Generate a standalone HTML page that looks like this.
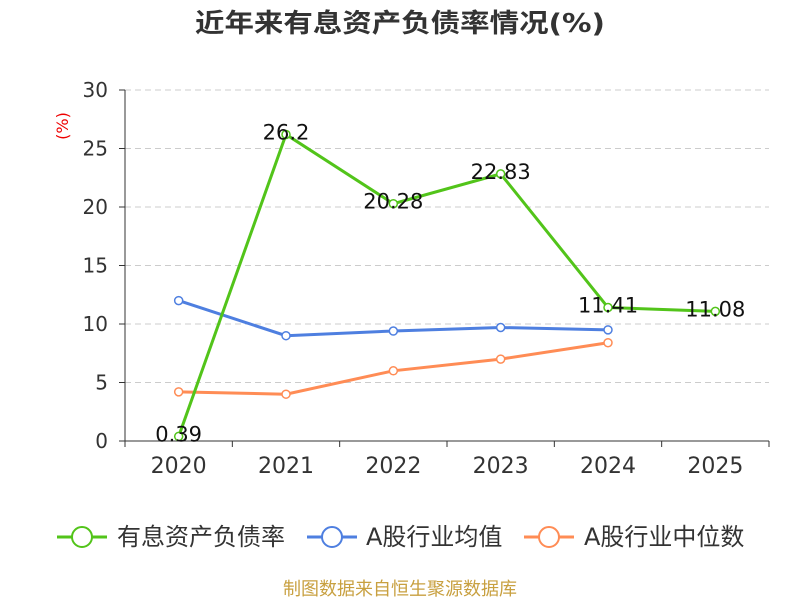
<!DOCTYPE html>
<html><head><meta charset="utf-8"><style>
body{margin:0;background:#fff;width:800px;height:600px;overflow:hidden;font-family:"DejaVu Sans","Noto Sans CJK SC",sans-serif}
</style></head><body>
<svg id="c" width="800" height="600" xmlns="http://www.w3.org/2000/svg">
<text x="195" y="32" textLength="410" lengthAdjust="spacingAndGlyphs" font-size="26" font-weight="bold" fill="#333">近年来有息资产负债率情况(%)</text>
<text x="68" y="126" text-anchor="middle" font-size="16" fill="#e00" transform="rotate(-90 68 126)">(%)</text>
<g id="grid"></g><g id="axes"></g><g id="series"></g>
<g>
<g><line x1="57" y1="537" x2="107" y2="537" stroke="#52c41a" stroke-width="3"/><circle cx="82" cy="537" r="10" fill="#fff" stroke="#52c41a" stroke-width="2"/><text x="117" y="545" font-size="24" fill="#333">有息资产负债率</text></g>
<g><line x1="307" y1="537" x2="357" y2="537" stroke="#4e7fe0" stroke-width="3"/><circle cx="332" cy="537" r="10" fill="#fff" stroke="#4e7fe0" stroke-width="2"/><text x="366" y="545" font-size="24" fill="#333">A股行业均值</text></g>
<g><line x1="524" y1="537" x2="574" y2="537" stroke="#ff8c55" stroke-width="3"/><circle cx="549" cy="537" r="10" fill="#fff" stroke="#ff8c55" stroke-width="2"/><text x="584" y="545" font-size="24" fill="#333">A股行业中位数</text></g>
</g>
<text x="400" y="595" text-anchor="middle" font-size="18" fill="#c8a040">制图数据来自恒生聚源数据库</text>
</svg>
<script>
const categories=["2020","2021","2022","2023","2024","2025"];
const debtRatio=[0.39,26.2,20.28,22.83,11.41,11.08];
const industryMean=[12.0,9.0,9.4,9.7,9.5];
const industryMedian=[4.2,4.0,6.0,7.0,8.4];
const yTicks=[0,5,10,15,20,25,30];
const NS="http://www.w3.org/2000/svg";
const x0=125,x1=769,y0=441,yTop=90,yMax=30;
const bw=(x1-x0)/categories.length;
const X=i=>x0+bw*(i+0.5);
const Y=v=>y0-(v/yMax)*(y0-yTop);
function mk(tag,attrs,parent){const e=document.createElementNS(NS,tag);for(const k in attrs)e.setAttribute(k,attrs[k]);parent.appendChild(e);return e;}
const grid=document.getElementById('grid'),axes=document.getElementById('axes'),ser=document.getElementById('series');
yTicks.forEach(t=>{
 if(t>0){const g=mk('line',{x1:x0,x2:x1,y1:Y(t),y2:Y(t),stroke:'#ccc','stroke-dasharray':'6,4'},grid);
 
 }
 mk('line',{x1:x0-6,x2:x0,y1:Y(t),y2:Y(t),stroke:'#333'},axes);
 const tx=mk('text',{x:x0-17,y:Y(t)+7,'text-anchor':'end','font-size':20,fill:'#333'},axes);tx.textContent=t;
 
 
});
mk('line',{x1:x0,x2:x0,y1:yTop,y2:y0,stroke:'#333'},axes);
mk('line',{x1:x0,x2:x1,y1:y0,y2:y0,stroke:'#333'},axes);
for(let i=0;i<=categories.length;i++)mk('line',{x1:x0+bw*i,x2:x0+bw*i,y1:y0,y2:y0+6,stroke:'#333'},axes);
categories.forEach((c,i)=>{const t=mk('text',{x:X(i),y:y0+32,'text-anchor':'middle','font-size':22,fill:'#333'},axes);t.textContent=c;
 
 });
function series(vals,color,name,labels){
 const p=mk('polyline',{points:vals.map((v,i)=>X(i)+','+Y(v)).join(' '),fill:'none',stroke:color,'stroke-width':3},ser);
 
 
 vals.forEach((v,i)=>{const c=mk('circle',{cx:X(i),cy:Y(v),r:4,fill:'#fff',stroke:color,'stroke-width':1.5},ser);
  
  
  if(labels){const t=mk('text',{x:X(i),y:Y(v)+5,'text-anchor':'middle','font-size':21,fill:'#111'},ser);t.textContent=v;
   
   }
 });
}
series(industryMean,'#4e7fe0','industry-mean',false);
series(industryMedian,'#ff8c55','industry-median',false);
series(debtRatio,'#52c41a','debt-ratio',true);
</script>
</body></html>
